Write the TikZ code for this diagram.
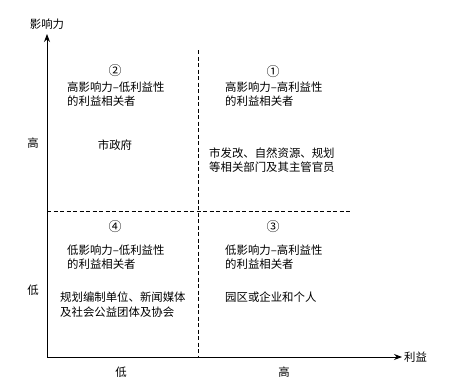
\documentclass[tikz,border=0pt]{standalone}
\usepackage{fontspec}
\setmainfont{Noto Sans CJK SC}
\usetikzlibrary{arrows.meta}
\begin{document}
\begin{tikzpicture}[x=1pt,y=-1pt,
  txt/.style={inner sep=0pt,font=\fontsize{11.4}{14.5}\selectfont,align=left},
  num/.style={inner sep=0pt,font=\fontsize{13}{13}\selectfont},
  axis/.style={line width=0.9pt,-{Stealth[length=8pt,width=6pt]}},
  divider/.style={line width=0.8pt,dash pattern=on 4pt off 2.5pt}]
\useasboundingbox (0,0) rectangle (450,388);
% axes
\coordinate (O) at (47,357);
\coordinate (Ytop) at (47,34);
\coordinate (Xend) at (402,357);
\draw[axis] (O) -- (Ytop);
\draw[axis] (O) -- (Xend);
\node[txt,anchor=center] (ylab) at (47,24) {影响力};
\node[txt,anchor=west] (xlab) at (404,357) {利益};
% dividers
\coordinate (vtop) at (198,50);
\coordinate (vbot) at (198,357);
\coordinate (hl) at (47,211);
\coordinate (hr) at (352,211);
\draw[divider] (vtop) -- (vbot);
\draw[divider] (hl) -- (hr);
% axis tick labels
\node[txt] (yhigh) at (33,143) {高};
\node[txt] (ylow) at (33,290) {低};
\node[txt] (xlow) at (121,372) {低};
\node[txt] (xhigh) at (284,372) {高};
% quadrant 2
\node[num] (n2) at (115,71) {②};
\node[txt,anchor=west] (t2) at (67,94) {高影响力–低利益性\\的利益相关者};
\node[txt] (b2) at (115,145) {市政府};
% quadrant 1
\node[num] (n1) at (273,72) {①};
\node[txt,anchor=west] (t1) at (225,94) {高影响力–高利益性\\的利益相关者};
\node[txt,anchor=west] (b1) at (209,160) {市发改、自然资源、规划\\等相关部门及其主管官员};
% quadrant 4
\node[num] (n4) at (115,227) {④};
\node[txt,anchor=west] (t4) at (67,257) {低影响力–低利益性\\的利益相关者};
\node[txt,anchor=west] (b4) at (60,304.5) {规划编制单位、新闻媒体\\及社会公益团体及协会};
% quadrant 3
\node[num] (n3) at (273,227) {③};
\node[txt,anchor=west] (t3) at (225,257) {低影响力–高利益性\\的利益相关者};
\node[txt,anchor=west] (b3) at (225,297) {园区或企业和个人};
\end{tikzpicture}
\end{document}
